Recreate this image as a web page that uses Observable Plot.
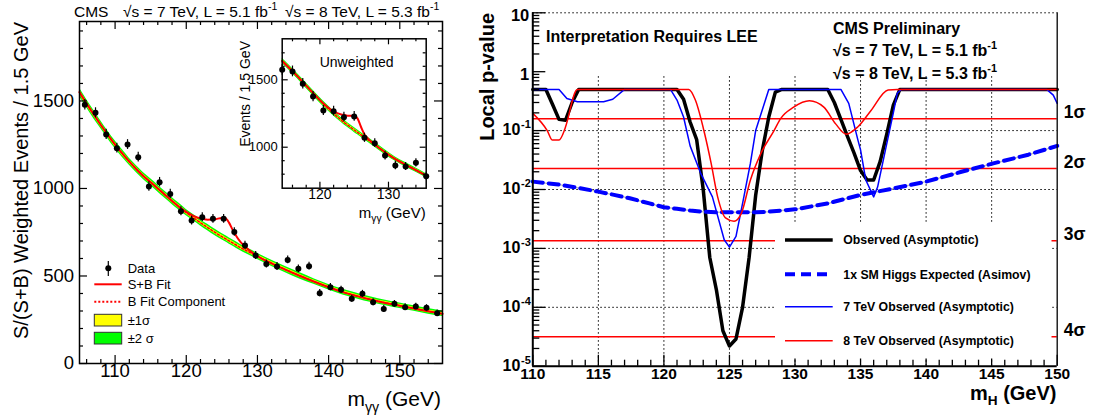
<!DOCTYPE html>
<html><head><meta charset="utf-8">
<script src="https://cdn.jsdelivr.net/npm/d3@7"></script>
<script src="https://cdn.jsdelivr.net/npm/@observablehq/plot@0.6"></script>
<style>
body{margin:0;background:#fff;}
#wrap{position:relative;width:1093px;height:420px;overflow:hidden;background:#fff;}
#wrap svg{position:absolute;overflow:visible;max-width:none;}
</style></head><body><div id="wrap"></div>
<script>
// ================= LEFT PANEL DATA (weighted diphoton spectrum) =================
const binCenters = [105.75,107.25,108.75,110.25,111.75,113.25,114.75,116.25,117.75,119.25,120.75,122.25,123.75,125.25,126.75,128.25,129.75,131.25,132.75,134.25,135.75,137.25,138.75,140.25,141.75,143.25,144.75,146.25,147.75,149.25,150.75,152.25,153.75,155.25];
const weightedEvents = [1478,1432,1309,1230,1251,1179,1011,1036,969,870,817,836,827,827,751,674,617,569,554,592,541,556,402,436,421,370,398,350,312,341,322,326,318,287];
const weightedErr = [30,29,29,28,28,28,27,27,26,26,25,25,25,25,24,24,23,23,23,22,22,22,21,21,21,20,20,20,19,19,19,18,18,18];
const fitMass = [105,106,107,108,109,110,111,112,113,114,115,116,117,118,119,120,121,122,123,124,125,125.5,126,126.5,127,127.5,128,129,130,132,134,136,138,140,142,144,146,148,150,152,154,156];
const fitB  = [1550,1485,1423,1363,1305,1250,1200,1153,1110,1070,1035,1000,964,929,895,862,833,804,777,750,725,713,701,689,677,665,654,633,612,572,535,500,467,436,408,385,364,346,330,314,298,284];
const fitSB = [1550,1485,1423,1363,1305,1250,1200,1153,1110,1070,1035,1000,964,929,895,866,843,828,822,824,832,830,805,765,730,700,678,642,614,572,535,500,467,436,408,385,364,346,330,314,298,284];
const fitErr1 = [12,12,12,11,11,11,11,10,10,10,10,10,10,10,10,9,9,9,9,9,9,9,9,9,9,9,9,9,9,9,9,9,8,8,8,8,8,8,8,8,8,8];
const xTicksL = [110,120,130,140,150];
const yTicksL = [0,500,1000,1500];

// ================= INSET DATA (unweighted) =================
const insetMass = [114.5,116,117.5,119,120.5,122,123.5,125,126.5,128,129.5,131,132.5,134,135.5];
const insetEvents = [1574,1562,1470,1376,1272,1267,1223,1228,1070,1030,938,864,857,884,785];
const insetErr = [40,40,39,38,37,36,36,36,34,33,32,31,30,30,29];
const insetFitMass = [114.5,116,117.5,119,120.5,122,123,123.5,124,124.5,125,125.5,126,126.5,127,128,129.5,131,132.5,134,135.5];
const insetFitB  = [1640,1564,1484,1402,1322,1250,1206,1185,1166,1147,1128,1110,1091,1073,1055,1018,963,912,870,830,788];
const insetFitSB = [1640,1564,1484,1402,1324,1265,1244,1240,1234,1233,1234,1212,1150,1095,1064,1020,963,912,870,830,788];
const insetErr1 = [10,10,10,10,10,9,9,9,9,9,9,9,9,9,9,9,9,8,8,8,8];
const xTicksInset = [120,130];
const yTicksInset = [1000,1500];

// ================= RIGHT PANEL DATA (local p-values) =================
const obsMass = [110,111,111.5,112,112.5,113,113.5,121,121.5,122,122.5,123,123.5,124,124.5,125,125.5,126,126.5,127,127.5,128,128.5,129,132.5,133,133.5,134,134.5,135,135.5,136,136.5,137,137.5,138,150];
const obsP = [0.5,0.5,0.28,0.155,0.15,0.3,0.5,0.5,0.34,0.14,0.07,0.01,7e-4,2e-4,4e-5,2.2e-5,2.9e-5,1e-4,7e-4,0.008,0.045,0.17,0.45,0.5,0.5,0.3,0.155,0.08,0.042,0.021,0.0145,0.0145,0.03,0.087,0.27,0.5,0.5];
const expMass = [110,112,113.5,115,116.2,117.4,118.9,120,121,122,123,124,125,126,127,128,129,130,132.5,135,137.6,140,142.7,145.2,147.8,150];
const expP = [0.0136,0.0121,0.0106,0.0092,0.0081,0.0071,0.0058,0.0050,0.0047,0.0044,0.0042,0.0041,0.0041,0.0041,0.0041,0.0042,0.0044,0.0046,0.0058,0.0081,0.0105,0.0136,0.020,0.028,0.039,0.055];
const tev7Mass = [110,112,112.6,113.4,115.4,116.1,117,120.5,121,121.5,122,122.8,123.7,124.6,125,125.5,126.1,126.6,127,128,133.5,134.1,134.8,135,135.4,136,136.3,136.9,137.5,137.8,138.1,149.2,149.7,150];
const tev7P = [0.5,0.5,0.35,0.31,0.31,0.34,0.5,0.5,0.33,0.17,0.055,0.019,7.5e-3,1.4e-3,1.05e-3,1.6e-3,7.5e-3,0.028,0.1,0.5,0.5,0.29,0.069,0.047,0.0145,7.5e-3,0.011,0.047,0.2,0.43,0.5,0.5,0.4,0.29];
const tev8Mass = [110,111.1,111.5,112,112.4,112.5,113.4,121.9,122.4,123.1,123.6,124.1,124.7,125.35,125.9,126.6,127.4,128.4,128.9,129.9,131.1,132.2,133.1,133.9,134.8,135.8,137.1,137.8,150];
const tev8P = [0.196,0.1,0.069,0.069,0.1,0.116,0.5,0.5,0.33,0.09,0.028,7.5e-3,3.3e-3,2.9e-3,3.9e-3,0.0145,0.041,0.1,0.16,0.25,0.32,0.25,0.13,0.087,0.116,0.22,0.49,0.5,0.5];
const sigmaP = [0.1587,0.02275,0.00135,3.167e-5];
const sigmaLabels = ["1σ","2σ","3σ","4σ"];
const xTicksR = [110,115,120,125,130,135,140,145,150];
const yDecades = [1e-5,1e-4,1e-3,1e-2,1e-1,1,10];
const yDecadeBase = ["10","10","10","10","10","1","10"];
const yDecadeExp = ["-5","-4","-3","-2","-1","",""];

// ================= helpers =================
const FONT = "'Liberation Sans', Arial, Helvetica, sans-serif";
const wrap = document.getElementById("wrap");
function place(svg, left, top){ svg.style.left = left+"px"; svg.style.top = top+"px"; wrap.appendChild(svg); return svg; }
function rich(svg, {x, y, size, weight="normal", anchor="start", rotate=false, parts}) {
  const t = d3.select(svg).append("text")
    .attr("x", x).attr("y", y)
    .attr("font-family", FONT).attr("font-size", size).attr("font-weight", weight)
    .attr("text-anchor", anchor).attr("fill", "#000").style("white-space","pre");
  if (rotate) t.attr("transform", `rotate(-90,${x},${y})`);
  let shift = 0;
  for (const [s, kind] of parts) {
    const sp = t.append("tspan").text(s);
    const target = kind === "sup" ? -0.42*size : kind === "sub" ? 0.28*size : 0;
    const dy = target - shift;
    if (dy) sp.attr("dy", dy);
    if (kind) sp.attr("font-size", size*0.68);
    shift = target;
  }
  return t;
}

// ================= LEFT PANEL =================
const mainPts = binCenters.map((m,i)=>({m, v:weightedEvents[i], e:weightedErr[i]}));
const fitRows = fitMass.map((m,i)=>({m, b:fitB[i], sb:fitSB[i], e1:fitErr1[i]}));
const L = {w:460,h:420,ml:79,mr:18,mt:21,mb:57};
const LFW = L.w-L.ml-L.mr, LFH = L.h-L.mt-L.mb;
const xMinorL = d3.range(106,156,2).filter(v=>v%10!==0);
const yMinorL = d3.range(100,1954,100).filter(v=>v%500!==0);
const leftSvg = Plot.plot({
  width:L.w, height:L.h, marginLeft:L.ml, marginRight:L.mr, marginTop:L.mt, marginBottom:L.mb,
  style:{fontFamily:FONT, background:"transparent", overflow:"visible"},
  x:{domain:[105,156], axis:null}, y:{domain:[0,1954], axis:null},
  marks:[
    Plot.areaY(fitRows,{x:"m", y1:d=>d.b-2*d.e1, y2:d=>d.b+2*d.e1, fill:"#00ff00", curve:"monotone-x"}),
    Plot.areaY(fitRows,{x:"m", y1:d=>d.b-d.e1, y2:d=>d.b+d.e1, fill:"#ffff00", curve:"monotone-x"}),
    Plot.line(fitRows,{x:"m", y:"b", stroke:"#ff0000", strokeWidth:1.5, strokeDasharray:"2,2", curve:"monotone-x"}),
    Plot.line(fitRows,{x:"m", y:"sb", stroke:"#ff0000", strokeWidth:2, curve:"monotone-x"}),
    Plot.ruleX(mainPts,{x:"m", y1:d=>d.v-d.e, y2:d=>d.v+d.e, stroke:"#000", strokeWidth:1.2}),
    Plot.dot(mainPts,{x:"m", y:"v", r:3, fill:"#000"}),
    Plot.ruleX(xTicksL,{insetTop:LFH-8, stroke:"#000", strokeWidth:1.2}),
    Plot.ruleX(xTicksL,{insetBottom:LFH-8, stroke:"#000", strokeWidth:1.2}),
    Plot.ruleX(xMinorL,{insetTop:LFH-4, stroke:"#000", strokeWidth:1.2}),
    Plot.ruleX(xMinorL,{insetBottom:LFH-4, stroke:"#000", strokeWidth:1.2}),
    Plot.ruleY(yTicksL,{insetRight:LFW-8, stroke:"#000", strokeWidth:1.2}),
    Plot.ruleY(yTicksL,{insetLeft:LFW-8, stroke:"#000", strokeWidth:1.2}),
    Plot.ruleY(yMinorL,{insetRight:LFW-4, stroke:"#000", strokeWidth:1.2}),
    Plot.ruleY(yMinorL,{insetLeft:LFW-4, stroke:"#000", strokeWidth:1.2}),
    Plot.frame({stroke:"#000", strokeWidth:1.5}),
    Plot.text(xTicksL,{x:d=>d, frameAnchor:"bottom", dy:13.5, text:d=>String(d), fontSize:18.5, fontFamily:FONT, fill:"#000"}),
    Plot.text(yTicksL,{y:d=>d, frameAnchor:"left", textAnchor:"end", dx:-5.5, text:d=>String(d), fontSize:18.5, fontFamily:FONT, fill:"#000"})
  ]
});
place(leftSvg,0,0);
rich(leftSvg,{x:74,y:17,size:15.5,parts:[["CMS"]]});
rich(leftSvg,{x:123,y:17,size:15.5,parts:[["√s = 7 TeV, L = 5.1 fb"],["-1","sup"]]});
rich(leftSvg,{x:285,y:17,size:15.5,parts:[["√s = 8 TeV, L = 5.3 fb"],["-1","sup"]]});
rich(leftSvg,{x:28,y:22,size:20,anchor:"end",rotate:true,parts:[["S/(S+B) Weighted Events / 1.5 GeV"]]});
rich(leftSvg,{x:441,y:406,size:21,anchor:"end",parts:[["m"],["γγ","sub"],[" (GeV)"]]});
// left legend
{
  const g = d3.select(leftSvg).append("g");
  g.append("line").attr("x1",108.3).attr("x2",108.3).attr("y1",261).attr("y2",276).attr("stroke","#000").attr("stroke-width",1.2);
  g.append("circle").attr("cx",108.3).attr("cy",268.3).attr("r",3).attr("fill","#000");
  g.append("line").attr("x1",94.3).attr("x2",121.7).attr("y1",284.3).attr("y2",284.3).attr("stroke","#ff0000").attr("stroke-width",2);
  g.append("line").attr("x1",94.3).attr("x2",121.7).attr("y1",301.7).attr("y2",301.7).attr("stroke","#ff0000").attr("stroke-width",2).attr("stroke-dasharray","2,2");
  g.append("rect").attr("x",94.3).attr("y",314.3).attr("width",27.4).attr("height",11.7).attr("fill","#ffff00").attr("stroke","#333").attr("stroke-width",1);
  g.append("rect").attr("x",94.3).attr("y",332.3).attr("width",27.4).attr("height",11.7).attr("fill","#00ff00").attr("stroke","#333").attr("stroke-width",1);
  const items = [["Data",268.3],["S+B Fit",284.3],["B Fit Component",301.7],["±1σ",320.2],["±2 σ",338.2]];
  for (const [t,y] of items) rich(leftSvg,{x:127.7,y:y+4.6,size:13,parts:[[t]]});
}

// ================= INSET =================
const insetPts = insetMass.map((m,i)=>({m, v:insetEvents[i], e:insetErr[i]}));
const insetRows = insetFitMass.map((m,i)=>({m, b:insetFitB[i], sb:insetFitSB[i], e1:insetErr1[i]}));
const I = {w:210,h:200,ml:51.7,mr:14.3,mt:8.3,mb:42.3};
const IFW = I.w-I.ml-I.mr, IFH = I.h-I.mt-I.mb;
const xMinorI = [116,118,122,124,126,128,132,134];
const yMinorI = [800,900,1100,1200,1300,1400,1600,1700];
const insetSvg = Plot.plot({
  width:I.w, height:I.h, marginLeft:I.ml, marginRight:I.mr, marginTop:I.mt, marginBottom:I.mb,
  style:{fontFamily:FONT, background:"transparent", overflow:"visible"},
  x:{domain:[114.5,135.5], axis:null}, y:{domain:[696,1804], axis:null},
  marks:[
    Plot.frame({fill:"#fff", stroke:"none"}),
    Plot.areaY(insetRows,{x:"m", y1:d=>d.b-2*d.e1, y2:d=>d.b+2*d.e1, fill:"#00ff00", curve:"monotone-x"}),
    Plot.areaY(insetRows,{x:"m", y1:d=>d.b-d.e1, y2:d=>d.b+d.e1, fill:"#ffff00", curve:"monotone-x"}),
    Plot.line(insetRows,{x:"m", y:"b", stroke:"#ff0000", strokeWidth:1.5, strokeDasharray:"2,2", curve:"monotone-x"}),
    Plot.line(insetRows,{x:"m", y:"sb", stroke:"#ff0000", strokeWidth:2, curve:"monotone-x"}),
    Plot.ruleX(insetPts,{x:"m", y1:d=>d.v-d.e, y2:d=>d.v+d.e, stroke:"#000", strokeWidth:1.2}),
    Plot.dot(insetPts,{x:"m", y:"v", r:3, fill:"#000"}),
    Plot.ruleX(xTicksInset,{insetTop:IFH-6, stroke:"#000", strokeWidth:1.2}),
    Plot.ruleX(xTicksInset,{insetBottom:IFH-6, stroke:"#000", strokeWidth:1.2}),
    Plot.ruleX(xMinorI,{insetTop:IFH-3, stroke:"#000", strokeWidth:1.2}),
    Plot.ruleX(xMinorI,{insetBottom:IFH-3, stroke:"#000", strokeWidth:1.2}),
    Plot.ruleY(yTicksInset,{insetRight:IFW-6, stroke:"#000", strokeWidth:1.2}),
    Plot.ruleY(yTicksInset,{insetLeft:IFW-6, stroke:"#000", strokeWidth:1.2}),
    Plot.ruleY(yMinorI,{insetRight:IFW-3, stroke:"#000", strokeWidth:1.2}),
    Plot.ruleY(yMinorI,{insetLeft:IFW-3, stroke:"#000", strokeWidth:1.2}),
    Plot.frame({stroke:"#000", strokeWidth:1.5}),
    Plot.text(xTicksInset,{x:d=>d, frameAnchor:"bottom", dy:10.5, text:d=>String(d), fontSize:14, fontFamily:FONT, fill:"#000"}),
    Plot.text(yTicksInset,{y:d=>d, frameAnchor:"left", textAnchor:"end", dx:-4.5, text:d=>String(d), fontSize:13, fontFamily:FONT, fill:"#000"})
  ]
});
place(insetSvg,230,30);
rich(insetSvg,{x:126.7,y:36.7,size:14,anchor:"middle",parts:[["Unweighted"]]});
rich(insetSvg,{x:20,y:11,size:14,anchor:"end",rotate:true,parts:[["Events / 1.5 GeV"]]});
rich(insetSvg,{x:195.7,y:188,size:15,anchor:"end",parts:[["m"],["γγ","sub"],[" (GeV)"]]});

// ================= RIGHT PANEL =================
const obsRows = obsMass.map((m,i)=>({m, p:obsP[i]}));
const expRows = expMass.map((m,i)=>({m, p:expP[i]}));
const t7Rows = tev7Mass.map((m,i)=>({m, p:tev7P[i]}));
const t8Rows = tev8Mass.map((m,i)=>({m, p:tev8P[i]}));
const decRows = yDecades.map((v,i)=>({v, base:yDecadeBase[i], exp:yDecadeExp[i]}));
const sigRows = sigmaP.map((p,i)=>({p, label:sigmaLabels[i]}));
const R = {w:633,h:420,ml:72.3,mr:36.3,mt:12.3,mb:54.3};
const RFW = R.w-R.ml-R.mr, RFH = R.h-R.mt-R.mb;
const xMinorR = d3.range(111,150).filter(v=>v%5!==0);
const yMinorR = [];
for (const d of yDecades.slice(0,6)) for (let k=2;k<=9;k++) yMinorR.push(d*k);
const gridX = xTicksR.slice(1,-1);
const gridY = [1e-4,1e-3,1e-2,1e-1];
const dots = {stroke:"#000", strokeWidth:1, strokeDasharray:"1.5,2.5"};
const boldTxt = {fontFamily:FONT, fontWeight:"bold", fill:"#000"};
const rightSvg = Plot.plot({
  width:R.w, height:R.h, marginLeft:R.ml, marginRight:R.mr, marginTop:R.mt, marginBottom:R.mb,
  style:{fontFamily:FONT, background:"transparent", overflow:"visible"},
  x:{domain:[110,150], axis:null}, y:{type:"log", domain:[1e-5,10], axis:null},
  marks:[
    Plot.ruleY(gridY, dots),
    Plot.ruleY([10], dots),
    Plot.ruleX(gridX,{y1:1e-5, y2:0.84, ...dots}),
    Plot.ruleY(sigRows,{y:"p", stroke:"#ff0000", strokeWidth:1.5}),
    Plot.line(obsRows,{x:"m", y:"p", stroke:"#000", strokeWidth:3.5}),
    Plot.line(expRows,{x:"m", y:"p", stroke:"#c0c0c0", strokeWidth:1.5}),
    Plot.line(expRows,{x:"m", y:"p", stroke:"#0000ff", strokeWidth:4, strokeDasharray:"10,6"}),
    Plot.line(t7Rows,{x:"m", y:"p", stroke:"#0000ff", strokeWidth:1.5}),
    Plot.line(t8Rows,{x:"m", y:"p", stroke:"#ff0000", strokeWidth:1.5, curve:"monotone-x"}),
    Plot.ruleX(xTicksR,{insetTop:RFH-11, stroke:"#000", strokeWidth:1.3}),
    Plot.ruleX(xMinorR,{insetTop:RFH-6, stroke:"#000", strokeWidth:1.3}),
    Plot.ruleY(yDecades,{insetRight:RFW-13, stroke:"#000", strokeWidth:1.3}),
    Plot.ruleY(yMinorR,{insetRight:RFW-7, stroke:"#000", strokeWidth:1.3}),
    Plot.ruleX([150],{stroke:"#000", strokeWidth:1.3}),
    Plot.ruleX([110],{stroke:"#000", strokeWidth:2}),
    Plot.ruleY([1e-5],{stroke:"#000", strokeWidth:2}),
    Plot.text(xTicksR,{x:d=>d, frameAnchor:"bottom", dy:12.5, text:d=>String(d), fontSize:15.5, ...boldTxt}),
    Plot.text(decRows.filter(d=>d.exp),{y:"v", text:"base", frameAnchor:"left", textAnchor:"end", dx:-12.5, dy:-0.5, fontSize:16, ...boldTxt}),
    Plot.text(decRows.filter(d=>d.exp),{y:"v", text:"exp", frameAnchor:"left", textAnchor:"end", dx:-2, dy:-6, fontSize:11, ...boldTxt}),
    Plot.text(decRows.filter(d=>!d.exp),{y:"v", text:"base", frameAnchor:"left", textAnchor:"end", dx:-3.5, dy:3, fontSize:16.5, ...boldTxt}),
    Plot.text(sigRows,{y:"p", text:"label", frameAnchor:"right", textAnchor:"start", dx:6.5, dy:-6, fontSize:17.5, ...boldTxt})
  ]
});
place(rightSvg,460,0);
// right panel legend (white box hides the grid behind it, as in the original)
{
  const g = d3.select(rightSvg).append("g");
  g.append("rect").attr("x",315).attr("y",222).attr("width",276.5).attr("height",136.5).attr("fill","#fff");
  const items = [
    ["Observed (Asymptotic)",240,"#000",3.5,null],
    ["1x SM Higgs Expected (Asimov)",274.3,"#0000ff",4,"10,6"],
    ["7 TeV Observed (Asymptotic)",306.7,"#0000ff",1.5,null],
    ["8 TeV Observed (Asymptotic)",340.7,"#ff0000",1.5,null]
  ];
  for (const [t,y,c,w,da] of items) {
    const ln = g.append("line").attr("x1",325).attr("x2",372.7).attr("y1",y).attr("y2",y).attr("stroke",c).attr("stroke-width",w);
    if (da) ln.attr("stroke-dasharray",da);
    rich(rightSvg,{x:383.3,y:y+4.3,size:12.3,weight:"bold",parts:[[t]]});
  }
}
rich(rightSvg,{x:86,y:41.5,size:16,weight:"bold",parts:[["Interpretation Requires LEE"]]});
rich(rightSvg,{x:373,y:33.5,size:16,weight:"bold",parts:[["CMS Preliminary"]]});
rich(rightSvg,{x:373,y:56,size:16,weight:"bold",parts:[["√s = 7 TeV, L = 5.1 fb"],["-1","sup"]]});
rich(rightSvg,{x:373,y:79,size:16,weight:"bold",parts:[["√s = 8 TeV, L = 5.3 fb"],["-1","sup"]]});
rich(rightSvg,{x:34,y:13,size:20,weight:"bold",anchor:"end",rotate:true,parts:[["Local p-value"]]});
rich(rightSvg,{x:596.5,y:399.5,size:20,weight:"bold",anchor:"end",parts:[["m"],["H","sub"],[" (GeV)"]]});
</script></body></html>
